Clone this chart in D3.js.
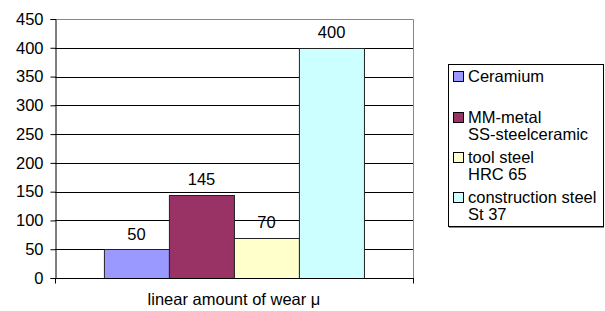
<!DOCTYPE html>
<html>
<head>
<meta charset="utf-8">
<script src="https://cdn.jsdelivr.net/npm/d3@7"></script>
<style>
  body { margin: 0; background: #fff; }
  text { font-family: "Liberation Sans", Arial, sans-serif; fill: #000; }
</style>
</head>
<body>
<div id="chart"></div>
<script>
// data
const category = 'linear amount of wear \u03bc';
const seriesNames = ['Ceramium', 'MM-metal SS-steelceramic', 'tool steel HRC 65', 'construction steel St 37'];
const legendLines = [['Ceramium'], ['MM-metal', 'SS-steelceramic'], ['tool steel', 'HRC 65'], ['construction steel', 'St 37']];
const values = [50, 145, 70, 400];
const colors = ['#9999FF', '#993366', '#FFFFCC', '#CCFFFF'];
const yTicks = [0, 50, 100, 150, 200, 250, 300, 350, 400, 450];

const width = 605, height = 311;
const plot = { left: 55, top: 19, right: 413, bottom: 278 };
const fontSize = '16.5px';

const svg = d3.select('#chart').append('svg')
    .attr('width', width)
    .attr('height', height);

const y = d3.scaleLinear().domain([0, 450]).range([plot.bottom, plot.top]);

// one category with four series side by side
const x0 = d3.scaleBand().domain([category])
    .range([plot.left, plot.right])
    .paddingInner(0).paddingOuter(0.188);
const x1 = d3.scaleBand().domain(seriesNames)
    .range([0, x0.bandwidth()]).padding(0);

// gridlines
svg.append('g')
    .selectAll('line')
    .data(yTicks.filter(t => t > 0 && t < 450))
    .enter().append('line')
    .attr('x1', plot.left).attr('x2', plot.right)
    .attr('y1', d => Math.round(y(d)) + 0.5)
    .attr('y2', d => Math.round(y(d)) + 0.5)
    .attr('stroke', '#000');

// plot frame top + right (gray)
svg.append('path')
    .attr('d', `M${plot.left},${plot.top + 0.5}H${plot.right + 0.5}V${plot.bottom}`)
    .attr('fill', 'none')
    .attr('stroke', '#888');

// bars
const g = svg.append('g').attr('transform', `translate(${x0(category)},0)`);
g.selectAll('rect')
    .data(values)
    .enter().append('rect')
    .attr('x', (d, i) => Math.round(x1(seriesNames[i])) + 0.5)
    .attr('y', d => Math.round(y(d)) + 0.5)
    .attr('width', x1.bandwidth())
    .attr('height', d => Math.round(y(0)) - Math.round(y(d)))
    .attr('fill', (d, i) => colors[i])
    .attr('stroke', '#222');

// value labels
g.selectAll('text.val')
    .data(values)
    .enter().append('text')
    .attr('class', 'val')
    .attr('x', (d, i) => x1(seriesNames[i]) + x1.bandwidth() / 2)
    .attr('y', d => y(d) - 9.5)
    .attr('text-anchor', 'middle')
    .style('font-size', fontSize)
    .text(d => d);

// y axis
const yAxis = d3.axisLeft(y).tickValues(yTicks).tickSize(5).tickPadding(7);
const ya = svg.append('g')
    .attr('transform', `translate(${plot.left + 0.5},0)`)
    .call(yAxis);
ya.select('.domain').attr('stroke', '#000');
ya.selectAll('.tick line').attr('stroke', '#000');
ya.selectAll('.tick text')
    .style('font-family', '"Liberation Sans", Arial, sans-serif')
    .style('font-size', fontSize)
    .attr('fill', '#000');

// x axis
const xAxis = d3.axisBottom(x0).tickSize(0).tickFormat(() => '');
const xa = svg.append('g')
    .attr('transform', `translate(0,${plot.bottom + 0.5})`)
    .call(xAxis);
xa.select('.domain').remove();
xa.append('line')
    .attr('x1', plot.left).attr('x2', plot.right + 1)
    .attr('stroke', '#000');
xa.selectAll('line.edge')
    .data([plot.left + 0.5, plot.right + 0.5])
    .enter().append('line')
    .attr('class', 'edge')
    .attr('x1', d => d).attr('x2', d => d)
    .attr('y1', 0).attr('y2', 5)
    .attr('stroke', '#000');

svg.append('text')
    .attr('x', x0(category) + x0.bandwidth() / 2)
    .attr('y', 305)
    .attr('text-anchor', 'middle')
    .style('font-size', fontSize)
    .text(category);

// legend
const legend = svg.append('g');
legend.append('rect')
    .attr('x', 448.5).attr('y', 64.5)
    .attr('width', 155).attr('height', 162)
    .attr('fill', '#fff')
    .attr('stroke', '#000');
legend.append('line')
    .attr('x1', 449).attr('x2', 604)
    .attr('y1', 227.5).attr('y2', 227.5)
    .attr('stroke', '#888');

const baselines = [82, 123, 163, 203];
const items = legend.selectAll('g.item')
    .data(seriesNames)
    .enter().append('g')
    .attr('class', 'item')
    .attr('transform', (d, i) => `translate(0,${baselines[i]})`);
items.append('rect')
    .attr('x', 453.5).attr('y', -10.5)
    .attr('width', 10).attr('height', 10)
    .attr('fill', (d, i) => colors[i])
    .attr('stroke', '#000');
items.append('text')
    .attr('x', 468)
    .style('font-size', fontSize)
    .selectAll('tspan')
    .data((d, i) => legendLines[i])
    .enter().append('tspan')
    .attr('x', 468)
    .attr('dy', (d, j) => j === 0 ? 0 : 17)
    .text(d => d);
</script>
</body>
</html>
